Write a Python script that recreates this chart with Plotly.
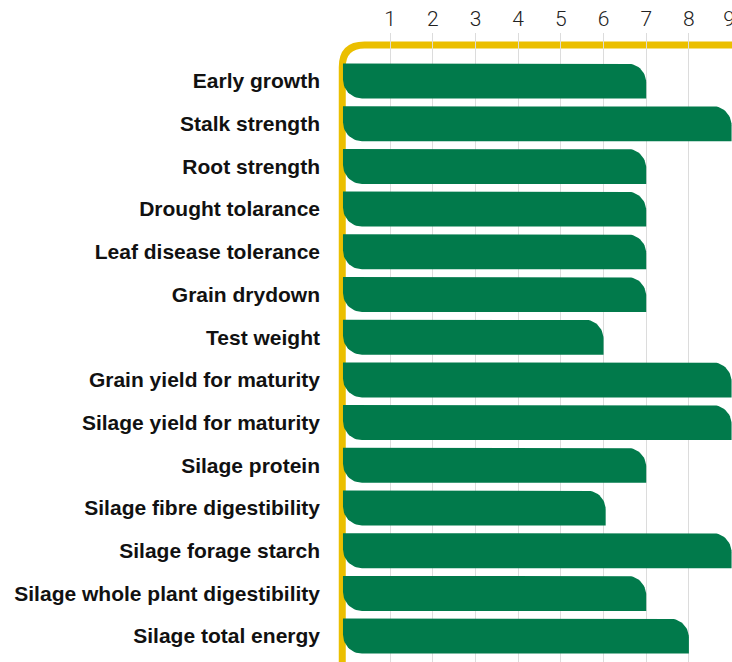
import numpy as np
import plotly.graph_objects as go

categories = ["Early growth", "Stalk strength", "Root strength", "Drought tolarance",
              "Leaf disease tolerance", "Grain drydown", "Test weight",
              "Grain yield for maturity", "Silage yield for maturity", "Silage protein",
              "Silage fibre digestibility", "Silage forage starch",
              "Silage whole plant digestibility", "Silage total energy"]
values = [7, 9, 7, 7, 7, 7, 6, 9, 9, 7, 6.05, 9, 7, 8]
x_ticks = [1, 2, 3, 4, 5, 6, 7, 8, 9]
x_tick_labels = ["1", "2", "3", "4", "5", "6", "7", "8", "9\u00a0"]

GREEN = "#017A4B"
YELLOW = "#EBBF00"

W, H = 732, 662
ML, MT = 335, 33
XR = [-0.292, 9.01]
n = len(categories)
YR = [13.607, -1.124]
px_x = (W - ML) / (XR[1] - XR[0])
px_y = (H - MT) / (YR[0] - YR[1])

base = -0.105
bar_h = 35 / px_y
r_px = 19
rx, ry = r_px / px_x, r_px / px_y
t = np.linspace(0, np.pi / 2, 16)

fig = go.Figure()
for i, (cat, v) in enumerate(zip(categories, values)):
    top, bot = i - bar_h / 2, i + bar_h / 2
    cx, cy = v - rx, top + ry
    xs = [base] + list(cx + rx * np.sin(t)) + [v]
    ys = [top] + list(cy - ry * np.cos(t)) + [bot]
    cx2, cy2 = base + rx, bot - ry
    xs += list(cx2 - rx * np.sin(t)) + [base]
    ys += list(cy2 + ry * np.cos(t)) + [top]
    fig.add_trace(go.Scatter(x=xs, y=ys, fill="toself", fillcolor=GREEN,
                             mode="lines", line=dict(width=0, color=GREEN),
                             hoverinfo="text", text=f"{cat}: {v}", showlegend=False))

# yellow frame
yx = -0.122
yt = -0.843
cr = 0.52
path = (f"M {yx},{YR[0] + 1} L {yx},{yt + cr} Q {yx},{yt} {yx + cr},{yt} L {XR[1] + 1},{yt}")
fig.add_shape(type="path", path=path, xref="x", yref="y",
              line=dict(color=YELLOW, width=7), layer="below")

fig.update_layout(
    width=W, height=H,
    margin=dict(l=ML, r=0, t=MT, b=0, pad=0, autoexpand=False),
    plot_bgcolor="white", paper_bgcolor="white",
    showlegend=False,
    xaxis=dict(range=XR, side="top", tickvals=x_ticks, ticktext=x_tick_labels,
               showgrid=True, gridcolor="#dcdcdc", gridwidth=1, zeroline=False,
               showline=False, ticks="", ticklabelstandoff=2, ticklabeloverflow="allow",
               automargin=False,
               tickfont=dict(family="Roboto", size=21, color="#222", weight=300)),
    yaxis=dict(range=YR, tickvals=list(range(n)), ticktext=categories,
               showgrid=False, zeroline=False, showline=False, ticks="",
               ticklabelstandoff=14, automargin=False,
               tickfont=dict(family="Liberation Sans", size=21, color="#111", weight="bold")),
)

fig.write_html("out.html", config={"displayModeBar": False},
               post_script="document.body.style.margin='0';document.body.style.overflow='hidden';")
